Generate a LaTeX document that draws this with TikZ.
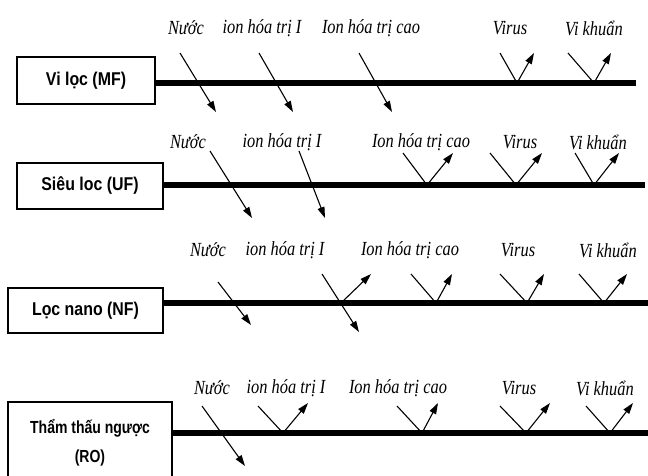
\documentclass[tikz,border=0pt]{standalone}
\usepackage{fontspec}
\setmainfont{Liberation Serif}
\newfontfamily\labfont[FakeStretch=0.82]{Liberation Serif}
\newfontfamily\boxfont[FakeStretch=0.86]{Liberation Sans}
\newfontfamily\boxfontn[FakeStretch=0.8]{Liberation Sans}
\usetikzlibrary{arrows.meta}
\tikzset{
  boxst/.style={draw, line width=2.5pt, fill=white, align=center, inner sep=0pt,
    font=\boxfont\bfseries\fontsize{18.5}{29}\selectfont},
  lab/.style={inner sep=0pt, font=\labfont\itshape\fontsize{20}{20}\selectfont},
  mainline/.style={line width=5.5pt},
  thinline/.style={line width=1.1pt},
  arr/.style={line width=1.1pt, -{Triangle[length=11pt,width=7pt]}},
}
\begin{document}
\begin{tikzpicture}[x=1pt,y=-1pt]
\clip (0,0) rectangle (648,475);
\useasboundingbox (0,0) rectangle (648,475);

% ---------------- Row 1: MF ----------------
\node[boxst, minimum width=138pt, minimum height=47pt] (mf) at (86,80.5) {Vi lọc (MF)};
\coordinate (mfR) at (636,83);
\draw[mainline] (mf.east |- mfR) -- (mfR);
\node[lab] (mf1) at (186,28) {Nước};
\node[lab] (mf2) at (262,28) {ion hóa trị I};
\node[lab] (mf3) at (371,28) {Ion hóa trị cao};
\node[lab] (mf4) at (510,28) {Virus};
\node[lab] (mf5) at (594,28) {Vi khuẩn};
\coordinate (a1s) at (180,53); \coordinate (a1e) at (216,112);
\coordinate (a2s) at (259,53); \coordinate (a2e) at (293,112);
\coordinate (a3s) at (359,53); \coordinate (a3e) at (392,112);
\draw[arr] (a1s) -- (a1e);
\draw[arr] (a2s) -- (a2e);
\draw[arr] (a3s) -- (a3e);
\coordinate (a4s) at (500,53); \coordinate (a4m) at (517,83); \coordinate (a4e) at (534,53);
\coordinate (a5s) at (568,53); \coordinate (a5m) at (594,83); \coordinate (a5e) at (611,53);
\draw[thinline] (a4s) -- (a4m); \draw[arr] (a4m) -- (a4e);
\draw[thinline] (a5s) -- (a5m); \draw[arr] (a5m) -- (a5e);

% ---------------- Row 2: UF ----------------
\node[boxst, minimum width=146pt, minimum height=46pt] (uf) at (90,186) {Siêu loc (UF)};
\coordinate (ufR) at (645,185);
\draw[mainline] (uf.east |- ufR) -- (ufR);
\node[lab] (uf1) at (188,142) {Nước};
\node[lab] (uf2) at (282,142) {ion hóa trị I};
\node[lab] (uf3) at (421,142) {Ion hóa trị cao};
\node[lab] (uf4) at (520,142) {Virus};
\node[lab] (uf5) at (598,142) {Vi khuẩn};
\coordinate (b1s) at (210,151); \coordinate (b1e) at (252,218);
\coordinate (b2s) at (299,151); \coordinate (b2e) at (325,218);
\draw[arr] (b1s) -- (b1e);
\draw[arr] (b2s) -- (b2e);
\coordinate (b3s) at (403,153); \coordinate (b3m) at (427,185); \coordinate (b3e) at (453,153);
\coordinate (b4s) at (490,153); \coordinate (b4m) at (516,185); \coordinate (b4e) at (542,153);
\coordinate (b5s) at (575,153); \coordinate (b5m) at (594,185); \coordinate (b5e) at (619,153);
\draw[thinline] (b3s) -- (b3m); \draw[arr] (b3m) -- (b3e);
\draw[thinline] (b4s) -- (b4m); \draw[arr] (b4m) -- (b4e);
\draw[thinline] (b5s) -- (b5m); \draw[arr] (b5m) -- (b5e);

% ---------------- Row 3: NF ----------------
\node[boxst, minimum width=155pt, minimum height=45pt] (nf) at (85.5,310.5) {Lọc nano (NF)};
\coordinate (nfR) at (650,303);
\draw[mainline] (nf.east |- nfR) -- (nfR);
\node[lab] (nf1) at (208,250) {Nước};
\node[lab] (nf2) at (285,250) {ion hóa trị I};
\node[lab] (nf3) at (410,250) {Ion hóa trị cao};
\node[lab] (nf4) at (518,250) {Virus};
\node[lab] (nf5) at (608,250) {Vi khuẩn};
\coordinate (c1s) at (218,282); \coordinate (c1e) at (251,325);
\coordinate (c2s) at (322,274); \coordinate (c2e) at (359,332);
\draw[arr] (c1s) -- (c1e);
\draw[arr] (c2s) -- (c2e);
\coordinate (c2m) at (341,303); \coordinate (c2r) at (371,274);
\draw[arr] (c2m) -- (c2r);
\coordinate (c3s) at (411,274); \coordinate (c3m) at (436,303); \coordinate (c3e) at (452,274);
\coordinate (c4s) at (500,274); \coordinate (c4m) at (527,303); \coordinate (c4e) at (544,274);
\coordinate (c5s) at (579,274); \coordinate (c5m) at (604,303); \coordinate (c5e) at (627,274);
\draw[thinline] (c3s) -- (c3m); \draw[arr] (c3m) -- (c3e);
\draw[thinline] (c4s) -- (c4m); \draw[arr] (c4m) -- (c4e);
\draw[thinline] (c5s) -- (c5m); \draw[arr] (c5m) -- (c5e);

% ---------------- Row 4: RO ----------------
\node[boxst, font=\boxfontn\bfseries\fontsize{17.5}{29}\selectfont, minimum width=164pt, minimum height=81pt] (ro) at (90,442.5) {Thẩm thấu ngược\\(RO)};
\coordinate (roR) at (650,433);
\draw[mainline] (ro.east |- roR) -- (roR);
\node[lab] (ro1) at (212,388) {Nước};
\node[lab] (ro2) at (286,388) {ion hóa trị I};
\node[lab] (ro3) at (398,388) {Ion hóa trị cao};
\node[lab] (ro4) at (519,388) {Virus};
\node[lab] (ro5) at (605,388) {Vi khuẩn};
\coordinate (d1s) at (202,406); \coordinate (d1e) at (245,466);
\draw[arr] (d1s) -- (d1e);
\coordinate (d2s) at (258,406); \coordinate (d2m) at (283,433); \coordinate (d2e) at (308,403);
\coordinate (d3s) at (397,406); \coordinate (d3m) at (422,433); \coordinate (d3e) at (438,403);
\coordinate (d4s) at (500,406); \coordinate (d4m) at (526,433); \coordinate (d4e) at (550,403);
\coordinate (d5s) at (586,406); \coordinate (d5m) at (610,433); \coordinate (d5e) at (633,403);
\draw[thinline] (d2s) -- (d2m); \draw[arr] (d2m) -- (d2e);
\draw[thinline] (d3s) -- (d3m); \draw[arr] (d3m) -- (d3e);
\draw[thinline] (d4s) -- (d4m); \draw[arr] (d4m) -- (d4e);
\draw[thinline] (d5s) -- (d5m); \draw[arr] (d5m) -- (d5e);
\end{tikzpicture}
\end{document}
